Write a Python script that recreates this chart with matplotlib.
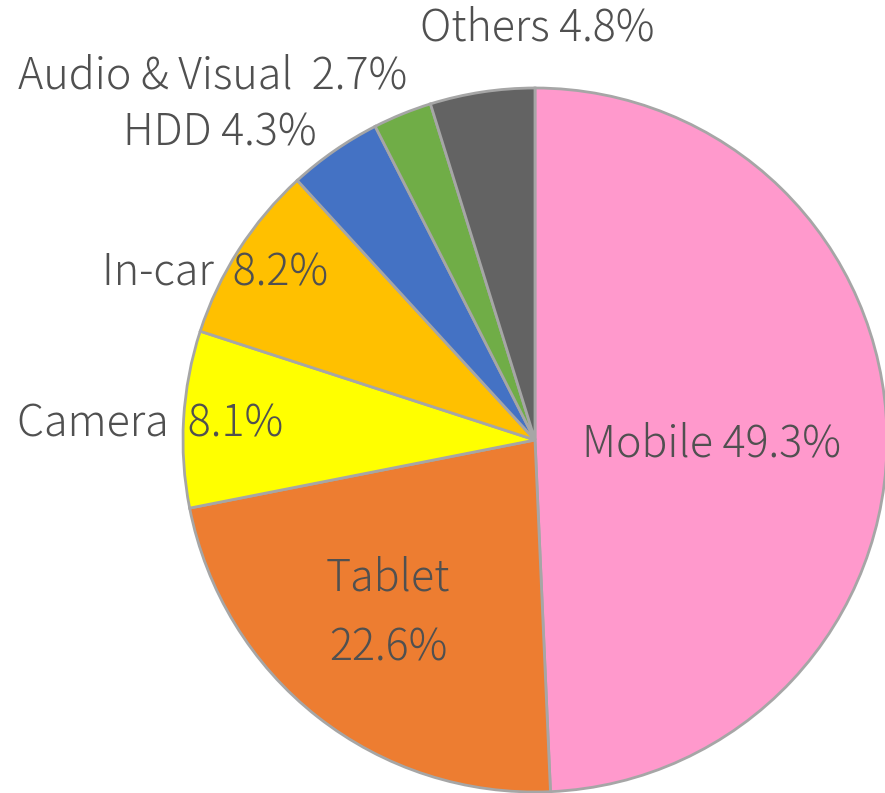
import matplotlib
matplotlib.use("Agg")
import matplotlib.pyplot as plt

categories = ["Mobile", "Tablet", "Camera", "In-car", "HDD", "Audio & Visual", "Others"]
shares = [49.3, 22.6, 8.1, 8.2, 4.3, 2.7, 4.8]
colors = ["#FF99CC", "#ED7D31", "#FFFF00", "#FFC000", "#4472C4", "#70AD47", "#636363"]

W, H = 885, 793
fig = plt.figure(figsize=(W / 100, H / 100), dpi=100)
ax = fig.add_axes([0, 0, 1, 1])

cx, cy, r = 535, H - 440, 352
ax.pie(shares, colors=colors, startangle=90, counterclock=False,
       center=(cx, cy), radius=r, frame=True,
       wedgeprops=dict(edgecolor="#A6A6A6", linewidth=2.0))
ax.set_xlim(0, W)
ax.set_ylim(0, H)
ax.set_aspect("equal")
ax.axis("off")

fam = ["Noto Sans CJK JP", "DejaVu Sans"]
tc = "#505050"
fs = 31

def lab(x, y, s, ha="center"):
    ax.text(x, H - y, s, ha=ha, va="center", fontsize=fs, color=tc,
            family=fam, fontweight="light")

lab(712, 444, f"{categories[0]} {shares[0]}%")
lab(388, 578, categories[1])
lab(388, 648, f"{shares[1]}%")
lab(150, 424, f"{categories[2]}  {shares[2]}%")
lab(215, 273, f"{categories[3]}  {shares[3]}%")
lab(220, 133, f"{categories[4]} {shares[4]}%")
lab(213, 76, f"{categories[5]}  {shares[5]}%")
lab(537, 28, f"{categories[6]} {shares[6]}%")

fig.savefig("out.png", dpi=100)
